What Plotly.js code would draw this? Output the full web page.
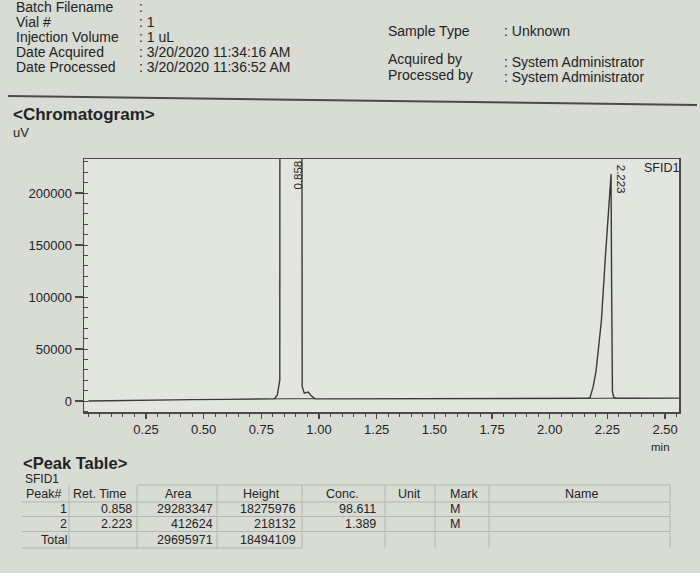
<!DOCTYPE html>
<html>
<head>
<meta charset="utf-8">
<script src="https://cdn.plot.ly/plotly-3.0.1.min.js"></script>
<style>
html,body{margin:0;padding:0;background:#d9dbd5;}
#chart{width:700px;height:573px;}
</style>
</head>
<body>
<div id="chart"></div>
<script>
// ---------- DATA ----------
const timeMin = [0, 0.05, 0.15, 0.3, 0.45, 0.6, 0.75, 0.806, 0.819, 0.830, 0.858, 0.923, 0.927, 0.936, 0.953, 0.966, 0.983,
                 1.05, 1.3, 1.55, 1.8, 2.0, 2.167, 2.175, 2.188, 2.201, 2.224, 2.242, 2.266, 2.268, 2.269, 2.272, 2.278, 2.29,
                 2.35, 2.45, 2.56];
const signalUV = [0, 200, 600, 1000, 1300, 1600, 1900, 2100, 5500, 20000, 18275976, 240000, 14000, 7500, 8500, 5000, 2200,
                  2000, 2100, 2300, 2450, 2550, 2600, 3500, 13500, 29000, 77000, 141000, 218132, 120000, 30000, 9000, 3500, 2700,
                  2700, 2750, 2800];

const peak1BaseT = [0.806, 0.983];
const peak1BaseV = [2100, 2200];
const peak2BaseT = [2.167, 2.29];
const peak2BaseV = [2600, 2700];

const peakLabels = ['0.858', '2.223'];
const peakLabelX = [0.91, 2.31];
const peakLabelY = [217000, 213500];

const xTickVals = [0.25, 0.50, 0.75, 1.00, 1.25, 1.50, 1.75, 2.00, 2.25, 2.50];
const xTickText = ['0.25', '0.50', '0.75', '1.00', '1.25', '1.50', '1.75', '2.00', '2.25', '2.50'];
const yTickVals = [0, 50000, 100000, 150000, 200000];
const yTickText = ['0', '50000', '100000', '150000', '200000'];

const headerLeftLabels = ['Batch Filename', 'Vial #', 'Injection Volume', 'Date Acquired', 'Date Processed'];
const headerLeftValues = [':', ': 1', ': 1 uL', ': 3/20/2020 11:34:16 AM', ': 3/20/2020 11:36:52 AM'];
const headerRightLabels = ['Sample Type', 'Acquired by', 'Processed by'];
const headerRightValues = [': Unknown', ': System Administrator', ': System Administrator'];

const tableHeaders = ['Peak#', 'Ret. Time', 'Area', 'Height', 'Conc.', 'Unit', 'Mark', 'Name'];
const peakNo = ['1', '2'];
const retTime = ['0.858', '2.223'];
const area = ['29283347', '412624'];
const height = ['18275976', '218132'];
const conc = ['98.611', '1.389'];
const mark = ['M', 'M'];
const totalArea = '29695971';
const totalHeight = '18494109';

// ---------- LAYOUT GEOMETRY ----------
const W = 700, H = 573;
const L = 84, R = 679, T = 159, B = 412;
const PW = R - L, PH = B - T;
const px = v => (v - L) / PW;
const py = v => (B - v) / PH;
const FONT = 'Liberation Sans, Arial, sans-serif';
const TXT = '#232323';

const ann = [];
function txt(x, y, text, o) {
  o = o || {};
  ann.push({
    xref: 'paper', yref: 'paper', x: px(x), y: py(y), text: text, showarrow: false,
    xanchor: o.anchor || 'left', yanchor: 'middle',
    font: {family: FONT, size: o.size || 14, color: o.color || TXT},
    borderpad: 0
  });
}

// header
const HS = 14;
const leftY = [7, 22, 37, 52, 67];
headerLeftLabels.forEach((t, i) => txt(15, leftY[i], t, {size: HS}));
headerLeftValues.forEach((t, i) => txt(138, leftY[i], t, {size: HS}));
const rightLabY = [31, 59, 75];
const rightValY = [31, 62, 77];
headerRightLabels.forEach((t, i) => txt(387, rightLabY[i], t, {size: HS}));
headerRightValues.forEach((t, i) => txt(503, rightValY[i], t, {size: HS}));

txt(12, 115, '<b>&lt;Chromatogram&gt;</b>', {size: 17});
txt(12, 133, 'uV', {size: 13});
txt(680, 168, 'SFID1', {size: 12.5, anchor: 'right'});
txt(660, 447, 'min', {size: 11.5, anchor: 'center'});

// peak labels (data coordinates)
peakLabels.forEach((t, i) => ann.push({
  xref: 'x', yref: 'y', x: peakLabelX[i], y: peakLabelY[i], text: t, showarrow: false,
  textangle: i === 0 ? -90 : 90, xanchor: 'center', yanchor: 'middle',
  font: {family: FONT, size: 11.5, color: TXT}
}));

// peak table
const TS = 12.5;
txt(22, 463, '<b>&lt;Peak Table&gt;</b>', {size: 16.5});
txt(24, 479, 'SFID1', {size: 12});
const hdrX = [25, 72, 164, 242, 325, 397, 449, 564];
tableHeaders.forEach((t, i) => txt(hdrX[i], 494, t, {size: TS}));
const rowY = [509, 524];
peakNo.forEach((v, i) => {
  txt(68, rowY[i], peakNo[i], {size: TS, anchor: 'right'});
  txt(133, rowY[i], retTime[i], {size: TS, anchor: 'right'});
  txt(214, rowY[i], area[i], {size: TS, anchor: 'right'});
  txt(297, rowY[i], height[i], {size: TS, anchor: 'right'});
  txt(377, rowY[i], conc[i], {size: TS, anchor: 'right'});
  txt(455, rowY[i], mark[i], {size: TS, anchor: 'center'});
});
txt(40, 540, 'Total', {size: TS});
txt(214, 540, totalArea, {size: TS, anchor: 'right'});
txt(297, 540, totalHeight, {size: TS, anchor: 'right'});

// shapes
const shapes = [];
function line(x0, y0, x1, y1, color, w) {
  shapes.push({type: 'line', xref: 'paper', yref: 'paper', x0: px(x0), y0: py(y0), x1: px(x1), y1: py(y1),
    line: {color: color, width: w}, layer: 'above'});
}
line(8, 96, 697, 105, '#4a4a48', 2);
const GRID = '#b3b7af';
[[138, 485, 670, 485], [22, 502, 670, 502], [22, 516.5, 670, 516.5], [22, 531.5, 670, 531.5], [22, 548, 302, 548]]
  .forEach(a => line(a[0], a[1], a[2], a[3], GRID, 1));
[69, 137, 217, 302, 385, 435, 489, 670].forEach(x => line(x, 485, x, 548, GRID, 1));

// ---------- TRACES ----------
const LINE = '#3a3a3a';
const traces = [
  {x: timeMin, y: signalUV, type: 'scatter', mode: 'lines', line: {color: LINE, width: 1.4}, hoverinfo: 'skip'},
  {x: peak1BaseT, y: peak1BaseV, type: 'scatter', mode: 'lines', line: {color: LINE, width: 1}, hoverinfo: 'skip'},
  {x: peak2BaseT, y: peak2BaseV, type: 'scatter', mode: 'lines', line: {color: LINE, width: 1}, hoverinfo: 'skip'}
];

const layout = {
  width: W, height: H,
  margin: {l: L, r: W - R, t: T, b: H - B, pad: 0},
  paper_bgcolor: '#d9dbd5',
  plot_bgcolor: '#e3e6df',
  showlegend: false,
  font: {family: FONT, color: TXT},
  xaxis: {
    range: [-0.0187, -0.0187 + PW / 230.7],
    tickmode: 'array', tickvals: xTickVals, ticktext: xTickText,
    ticks: 'outside', ticklen: 5, tickwidth: 1.2, tickcolor: '#4a4a4a',
    tickfont: {family: FONT, size: 13, color: TXT},
    showline: true, linecolor: '#4a4a4a', linewidth: 1.5, mirror: true,
    showgrid: false, zeroline: false,
    minor: {tickmode: 'linear', tick0: 0, dtick: 0.05, ticks: 'outside', ticklen: 3, tickwidth: 1, tickcolor: '#4a4a4a', showgrid: false}
  },
  yaxis: {
    range: [-10577, (401 - T) / 52 * 50000],
    tickmode: 'array', tickvals: yTickVals, ticktext: yTickText,
    ticks: 'outside', ticklen: 8, tickwidth: 1.2, tickcolor: '#4a4a4a',
    tickfont: {family: FONT, size: 13, color: TXT},
    showline: true, linecolor: '#4a4a4a', linewidth: 1.5, mirror: true,
    showgrid: false, zeroline: false,
    minor: {tickmode: 'linear', tick0: 0, dtick: 10000, ticks: 'inside', ticklen: 4, tickwidth: 1, tickcolor: '#4a4a4a', showgrid: false}
  },
  annotations: ann,
  shapes: shapes
};

Plotly.newPlot('chart', traces, layout, {displayModeBar: false, staticPlot: true});
</script>
</body>
</html>
